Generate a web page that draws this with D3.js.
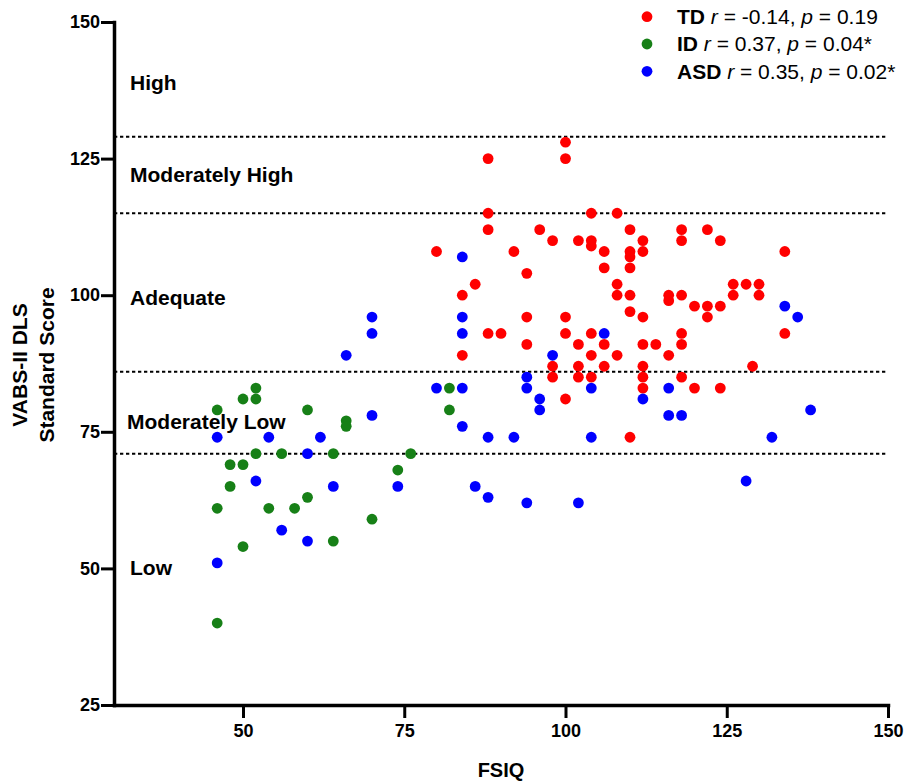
<!DOCTYPE html>
<html>
<head>
<meta charset="utf-8">
<script src="https://cdn.jsdelivr.net/npm/d3@7"></script>
<style>
  body { margin: 0; background: #fff; }
  svg { font-family: "Liberation Sans", Arial, sans-serif; }
</style>
</head>
<body>
<div id="chart"></div>
<script>
// [FSIQ, VABS-II DLS]
const tdData = [
  [100,128],[88,125],[100,125],[88,115],[104,115],[108,115],[88,112],[96,112],[110,112],
  [98,110],[102,110],[104,110],[104,109],[112,110],[80,108],[92,108],[106,108],[110,108],
  [110,107],[112,108],[106,105],[110,105],[94,104],[86,102],[108,102],[84,100],[108,100],
  [110,100],[110,97],[112,96],[94,96],[100,96],[88,93],[90,93],[100,93],[104,93],[94,91],
  [102,91],[106,91],[112,91],[114,91],[84,89],[104,89],[108,89],[98,87],[102,87],[106,87],
  [112,87],[98,85],[102,85],[104,85],[112,85],[112,83],[100,81],[110,74],
  [118,112],[122,112],[118,110],[124,110],[134,108],[126,102],[128,102],[130,102],[126,100],
  [130,100],[116,100],[116,99],[118,100],[120,98],[122,98],[124,98],[122,96],[118,93],
  [134,93],[118,91],[116,89],[129,87],[118,85],[120,83],[124,83]
];
const idData = [
  [52,83],[50,81],[52,81],[46,79],[60,79],[66,77],[66,76],[52,71],[56,71],[64,71],[48,69],
  [50,69],[48,65],[60,63],[46,61],[54,61],[58,61],[64,55],[50,54],[46,40],[82,83],[82,79],
  [76,71],[74,68],[70,59]
];
const asdData = [
  [66,89],[46,74],[54,74],[62,74],[60,71],[52,66],[64,65],[56,57],[60,55],[46,51],[70,96],
  [70,93],[70,78],[74,65],[84,107],[84,96],[84,93],[106,93],[98,89],[94,85],[80,83],[84,83],
  [94,83],[104,83],[96,81],[112,81],[96,79],[84,76],[88,74],[92,74],[104,74],[86,65],[88,63],
  [94,62],[102,62],[134,98],[136,96],[116,83],[116,78],[118,78],[138,79],[132,74],[128,66]
];

const groups = ["TD", "ID", "ASD"];
const groupColors = ["#ff0000", "#178017", "#0000ff"];
const groupStats = [
  { r: "-0.14", p: "0.19" },
  { r: "0.37", p: "0.04*" },
  { r: "0.35", p: "0.02*" }
];

const cutoffs = [129, 115, 86, 71];
const bandLabels = ["High", "Moderately High", "Adequate", "Moderately Low", "Low"];
const bandLabelValues = [137.5, 120.8, 98.2, 75.5, 48.8];

const xTicks = [50, 75, 100, 125, 150];
const yTicks = [25, 50, 75, 100, 125, 150];

const width = 910, height = 781;

const svg = d3.select("#chart").append("svg")
  .attr("width", width).attr("height", height);

const x = d3.scaleLinear().domain([30, 150]).range([114, 888]);
const y = d3.scaleLinear().domain([25, 150]).range([705, 22]);
const color = d3.scaleOrdinal().domain(groups).range(groupColors);

// Cut-off lines
svg.append("g").selectAll("line")
  .data(cutoffs).enter().append("line")
  .attr("x1", x(30)).attr("x2", x(150))
  .attr("y1", d => y(d)).attr("y2", d => y(d))
  .attr("stroke", "#000").attr("stroke-width", 2)
  .attr("stroke-dasharray", "3.3,2.7");

// Band labels
svg.append("g").selectAll("text")
  .data(bandLabels).enter().append("text")
  .attr("x", d => d === "Moderately Low" ? 127 : 130)
  .attr("y", (d, i) => y(bandLabelValues[i]))
  .style("font-size", "21px").style("font-weight", "bold")
  .text(d => d);

// Axes
const xAxis = svg.append("g").attr("transform", `translate(0,${y(25)})`)
  .call(d3.axisBottom(x).tickValues(xTicks).tickSize(13).tickSizeOuter(0).tickPadding(6));
const yAxis = svg.append("g").attr("transform", `translate(${x(30)},0)`)
  .call(d3.axisLeft(y).tickValues(yTicks).tickSize(13).tickSizeOuter(0).tickPadding(1));

[xAxis, yAxis].forEach(ax => {
  ax.select(".domain").attr("stroke-width", 3.5).attr("stroke-linecap", "square");
  ax.selectAll(".tick line").attr("stroke-width", 3);
  ax.selectAll(".tick text").attr("fill", "#000")
    .style("font-size", "18px").style("font-weight", "bold")
    .style("font-family", "'Liberation Sans', Arial, sans-serif");
});

// Axis titles
svg.append("text").attr("x", (x(30) + x(150)) / 2).attr("y", 777).attr("text-anchor", "middle")
  .style("font-size", "20px").style("font-weight", "bold").text("FSIQ");

const yTitle = svg.append("text").attr("transform", "translate(27,365) rotate(-90)")
  .attr("text-anchor", "middle").style("font-size", "21px").style("font-weight", "bold");
yTitle.append("tspan").attr("x", 0).attr("y", 0).text("VABS-II DLS");
yTitle.append("tspan").attr("x", 0).attr("y", 26.5).text("Standard Score");

// Points
[tdData, idData, asdData].forEach((series, gi) => {
  svg.append("g").selectAll("circle")
    .data(series).enter().append("circle")
    .attr("cx", d => x(d[0]))
    .attr("cy", d => y(d[1]))
    .attr("r", 5.4)
    .attr("fill", color(groups[gi]));
});

// Legend
const legend = svg.append("g");
groups.forEach((g, i) => {
  const row = legend.append("g").attr("transform", `translate(0, ${i * 27.3})`);
  row.append("circle").attr("cx", 647).attr("cy", 16.7).attr("r", 5.4).attr("fill", color(g));
  const t = row.append("text").attr("x", 677).attr("y", 24).style("font-size", "21px");
  t.append("tspan").style("font-weight", "bold").text(g);
  t.append("tspan").text(" ");
  t.append("tspan").style("font-style", "italic").text("r");
  t.append("tspan").text(` = ${groupStats[i].r}, `);
  t.append("tspan").style("font-style", "italic").text("p");
  t.append("tspan").text(` = ${groupStats[i].p}`);
});
</script>
</body>
</html>
